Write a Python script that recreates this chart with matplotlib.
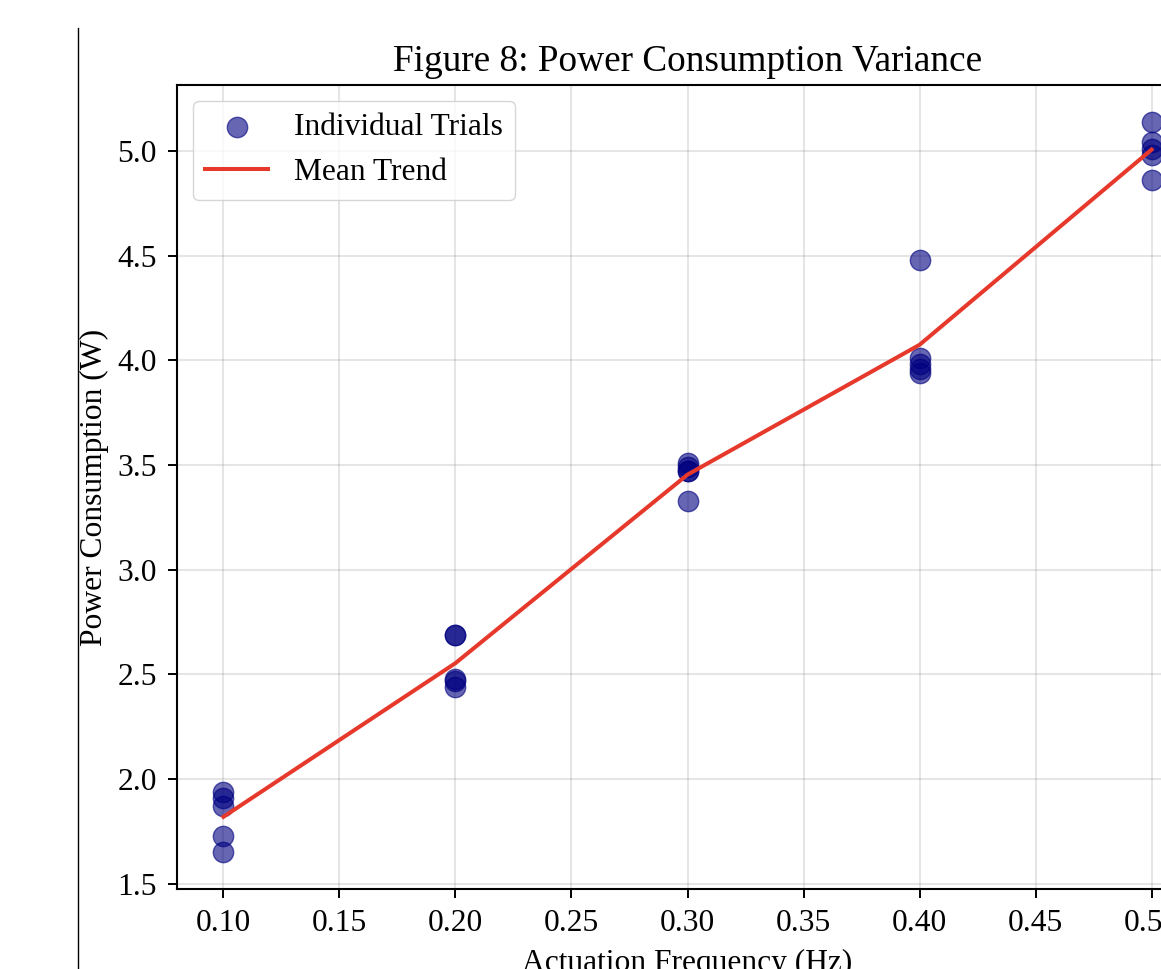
import numpy as np
import matplotlib
matplotlib.use('Agg')
import matplotlib.pyplot as plt
from matplotlib.lines import Line2D

# ============================================================
# Data
# ============================================================
FREQS = [0.10, 0.20, 0.30, 0.40, 0.50]
TRIALS_010 = [1.94, 1.91, 1.87, 1.73, 1.65]
TRIALS_020 = [2.69, 2.69, 2.48, 2.47, 2.44]
TRIALS_030 = [3.51, 3.49, 3.47, 3.47, 3.33]
TRIALS_040 = [4.48, 4.01, 3.98, 3.96, 3.94]
TRIALS_050 = [5.14, 5.04, 5.01, 4.98, 4.86]

trials = [TRIALS_010, TRIALS_020, TRIALS_030, TRIALS_040, TRIALS_050]
x_pts = np.repeat(FREQS, [len(t) for t in trials])
y_pts = np.concatenate(trials)
means = [np.mean(t) for t in trials]

# ============================================================
# Figure
# ============================================================
FS = 22.7
plt.rcParams['font.family'] = ['Liberation Serif', 'DejaVu Serif']
plt.rcParams['font.size'] = FS

W, H = 1161, 969
fig = plt.figure(figsize=(W / 100, H / 100), dpi=100)
left, right, top, bottom = 177, 1198, 85, 889
ax = fig.add_axes([left / W, 1 - bottom / H, (right - left) / W, (bottom - top) / H])

ax.scatter(x_pts, y_pts, s=215, color='navy', alpha=0.6, label='Individual Trials', zorder=3)
ax.plot(FREQS, means, '-', color='#e6392b', linewidth=2.9, label='Mean Trend', zorder=4)

ax.set_title('Figure 8: Power Consumption Variance', fontsize=26.8, pad=10)
ax.set_xlabel('Actuation Frequency (Hz)', fontsize=FS, labelpad=7.5)
ax.set_ylabel('Power Consumption (W)', fontsize=FS, labelpad=6)
ax.set_xticks([0.10, 0.15, 0.20, 0.25, 0.30, 0.35, 0.40, 0.45, 0.50])
ax.set_xticklabels(['0.10', '0.15', '0.20', '0.25', '0.30', '0.35', '0.40', '0.45', '0.50'])
ax.set_yticks([1.5, 2.0, 2.5, 3.0, 3.5, 4.0, 4.5, 5.0])
ax.tick_params(labelsize=FS, length=6.5, width=1.4, pad=8)
ax.grid(True, color='gray', alpha=0.2, linewidth=1.5)
for sp in ax.spines.values():
    sp.set_linewidth(1.5)
ax.legend(loc='upper left', fontsize=FS)

# stray border line on the left of the reference
fig.add_artist(Line2D([78 / W, 78 / W], [0, 1 - 28 / H], transform=fig.transFigure,
                      color='black', linewidth=1))

fig.savefig('out.png', dpi=100, facecolor='white')
plt.close()
